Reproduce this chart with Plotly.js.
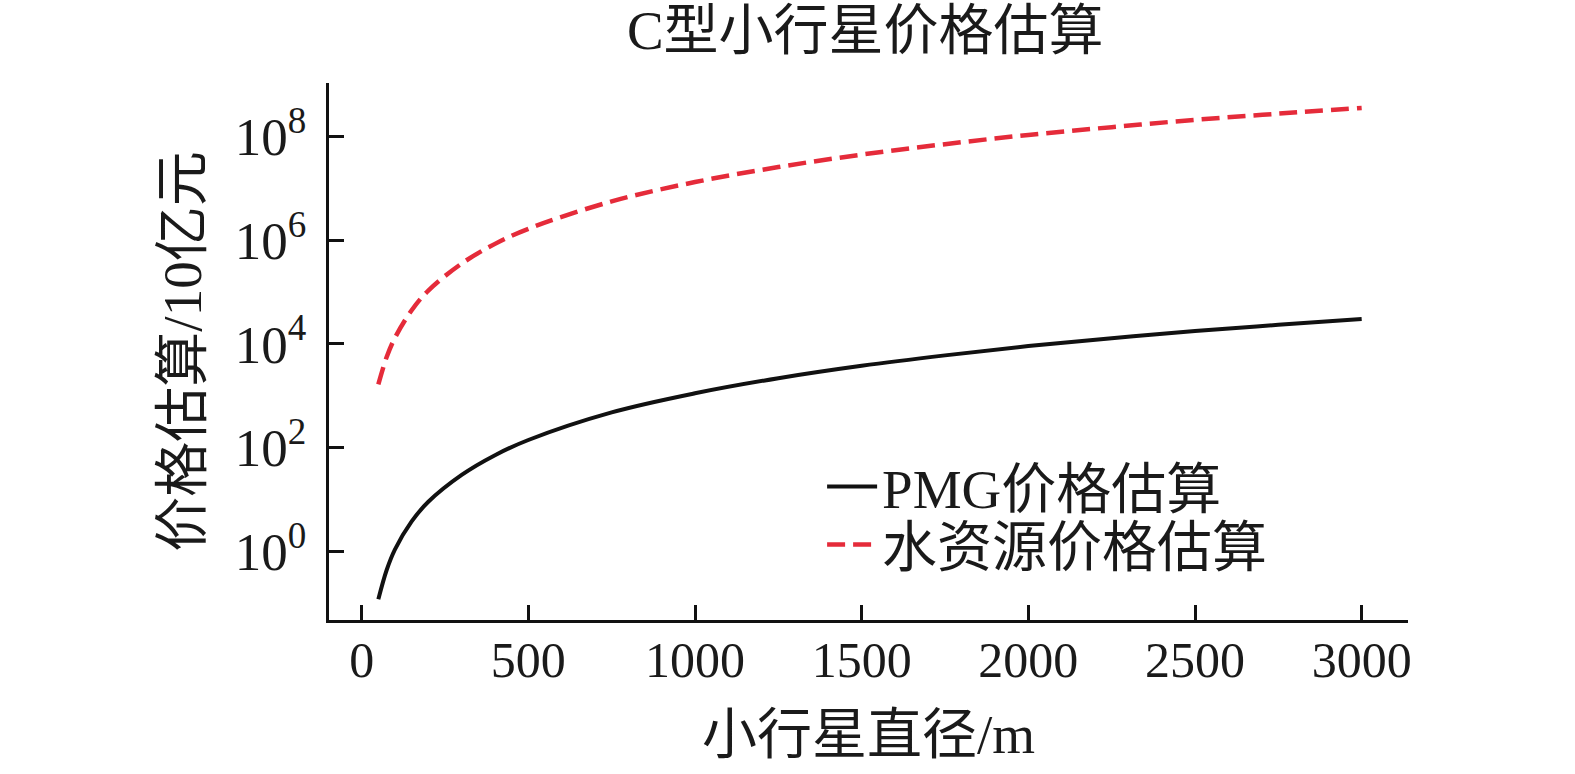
<!DOCTYPE html>
<html lang="zh">
<head>
    <meta charset="UTF-8">
    <title>C型小行星价格估算</title>
    <script src="https://cdn.plot.ly/plotly-3.0.1.min.js"></script>
    <style>
        * { margin: 0; padding: 0; box-sizing: border-box; }
        body { background: #ffffff; }
        #plot { width: 1575px; height: 774px; }
    </style>
</head>
<body>
    <div id="plot"></div>

    <script>
        // 小行星直径 (m)
        const diameters = [50, 75, 100, 150, 200, 300, 400, 500, 750, 1000, 1250, 1500, 1750, 2000, 2250, 2500, 2750, 3000];

        // 价格估算 (10亿元)
        const pmgPrice = [0.12, 0.44, 1.1, 3.8, 9.1, 30, 72, 141, 480, 1120, 2190, 3800, 6030, 9100, 12900, 17800, 23400, 30200];
        const waterPrice = [1660, 5600, 13200, 44700, 1.07e5, 3.55e5, 8.5e5, 1.66e6, 5.6e6, 1.32e7, 2.57e7, 4.47e7, 7.1e7, 1.07e8, 1.51e8, 2.09e8, 2.75e8, 3.55e8];

        const seriesNames = ['PMG价格估算', '水资源价格估算'];
        const xTicks = [0, 500, 1000, 1500, 2000, 2500, 3000];
        const yTicks = [1, 1e2, 1e4, 1e6, 1e8];
        const yTickText = ['10<sup>0</sup>', '10<sup>2</sup>', '10<sup>4</sup>', '10<sup>6</sup>', '10<sup>8</sup>'];

        const FONT = 'Liberation Serif, Times New Roman, Noto Sans CJK SC, serif';

        const pmgTrace = {
            x: diameters,
            y: pmgPrice,
            type: 'scatter',
            mode: 'lines',
            name: seriesNames[0],
            legend: 'legend',
            line: { color: '#111111', width: 4, shape: 'spline' }
        };

        const waterTrace = {
            x: diameters,
            y: waterPrice,
            type: 'scatter',
            mode: 'lines',
            name: seriesNames[1],
            legend: 'legend2',
            line: { color: '#e52b3a', width: 4.5, dash: '18px,8px', shape: 'spline' }
        };

        const legendBase = {
            x: 0.457,
            xanchor: 'left',
            yanchor: 'middle',
            bgcolor: 'rgba(0,0,0,0)',
            borderwidth: 0,
            font: { family: FONT, size: 55, color: '#1a1a1a' },
            itemwidth: 50
        };

        const layout = {
            width: 1575,
            height: 774,
            font: { family: FONT, size: 50, color: '#1a1a1a' },
            title: {
                text: 'C型小行星价格估算',
                font: { family: FONT, size: 55, color: '#1a1a1a' },
                x: 0.497,
                xanchor: 'center',
                xref: 'paper',
                y: 0.962,
                yref: 'container',
                yanchor: 'middle'
            },
            xaxis: {
                title: {
                    text: '小行星直径/m',
                    font: { family: FONT, size: 55 },
                    standoff: 28
                },
                range: [-98, 3139],
                tickvals: xTicks,
                ticks: 'inside',
                ticklen: 15,
                tickwidth: 3,
                tickcolor: '#111',
                showline: true,
                linecolor: '#111',
                linewidth: 3,
                showgrid: false,
                zeroline: false,
                ticklabelstandoff: -6,
                tickfont: { family: FONT, size: 50 }
            },
            yaxis: {
                title: {
                    text: '价格估算/10亿元',
                    font: { family: FONT, size: 55 },
                    standoff: 16
                },
                type: 'log',
                range: [-1.32, 9.03],
                tickvals: yTicks,
                ticktext: yTickText,
                ticks: 'inside',
                ticklen: 15,
                tickwidth: 3,
                tickcolor: '#111',
                showline: true,
                linecolor: '#111',
                linewidth: 3,
                showgrid: false,
                zeroline: false,
                ticklabelstandoff: 9,
                tickfont: { family: FONT, size: 53 }
            },
            legend: Object.assign({}, legendBase, { y: 0.248 }),
            legend2: Object.assign({}, legendBase, { y: 0.140 }),
            showlegend: true,
            plot_bgcolor: '#ffffff',
            paper_bgcolor: '#ffffff',
            margin: { l: 329, r: 167, t: 83, b: 154 }
        };

        Plotly.newPlot('plot', [pmgTrace, waterTrace], layout, { displayModeBar: false, staticPlot: true });
    </script>
</body>
</html>
